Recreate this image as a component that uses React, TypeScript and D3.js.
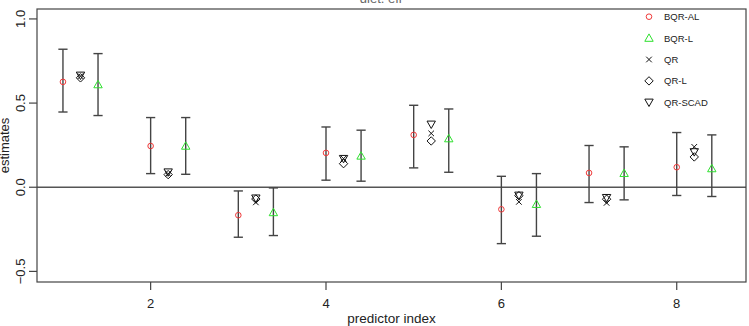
import React from "react";
import * as d3 from "d3";

// values
const predictors = [1, 2, 3, 4, 5, 6, 7, 8];
const bqrAL = [0.626, 0.245, -0.166, 0.204, 0.311, -0.131, 0.085, 0.119];
const bqrALLo = [0.447, 0.081, -0.297, 0.042, 0.115, -0.335, -0.091, -0.049];
const bqrALHi = [0.82, 0.414, -0.022, 0.358, 0.487, 0.065, 0.248, 0.325];
const bqrL = [0.61, 0.245, -0.15, 0.186, 0.289, -0.101, 0.083, 0.111];
const bqrLLo = [0.426, 0.077, -0.287, 0.036, 0.089, -0.291, -0.075, -0.055];
const bqrLHi = [0.794, 0.414, -0.004, 0.339, 0.465, 0.081, 0.24, 0.311];
const qr = [0.66, 0.08, -0.09, 0.17, 0.32, -0.087, -0.093, 0.24];
const qrL = [0.65, 0.075, -0.07, 0.14, 0.275, -0.05, -0.071, 0.18];
const qrSCAD = [0.665, 0.09, -0.065, 0.17, 0.374, -0.048, -0.062, 0.21];

const xTicks = [2, 4, 6, 8];
const yTicks = [-0.5, 0, 0.5, 1];
const legendNames = ["BQR-AL", "BQR-L", "QR", "QR-L", "QR-SCAD"];

const W = 749, H = 326;
const left = 37, right = 746, top = 9, bottom = 282;
const font = "Liberation Sans, Arial, sans-serif";
const RED = "#f03a3a";
const GREEN = "#2ee02e";
const AX = "#444";

const x = d3.scaleLinear().domain([0.704, 8.79]).range([left, right]);
const y = d3.scaleLinear().domain([-0.563, 1.059]).range([bottom, top]);

// marker drawing, R pch-like
const Marker = ({ kind, cx, cy }: { kind: string; cx: number; cy: number }) => {
  const s = 3.6;
  if (kind === "BQR-AL")
    return <circle cx={cx} cy={cy} r={2.8} fill="none" stroke={RED} strokeWidth={1} />;
  if (kind === "BQR-L") {
    const p = d3.path();
    p.moveTo(cx, cy - s - 0.6);
    p.lineTo(cx + s + 0.6, cy + s - 0.4);
    p.lineTo(cx - s - 0.6, cy + s - 0.4);
    p.closePath();
    return <path d={p.toString()} fill="none" stroke={GREEN} strokeWidth={1} />;
  }
  if (kind === "QR") {
    const k = 2.8;
    return (
      <path
        d={`M${cx - k},${cy - k}L${cx + k},${cy + k}M${cx - k},${cy + k}L${cx + k},${cy - k}`}
        stroke="#111"
        strokeWidth={1}
      />
    );
  }
  if (kind === "QR-L") {
    return (
      <path
        d={`M${cx},${cy - s - 0.6}L${cx + s + 0.6},${cy}L${cx},${cy + s + 0.6}L${cx - s - 0.6},${cy}Z`}
        fill="none"
        stroke="#111"
        strokeWidth={1}
      />
    );
  }
  const p = d3.path();
  p.moveTo(cx, cy + s + 0.6);
  p.lineTo(cx + s + 0.6, cy - s + 0.4);
  p.lineTo(cx - s - 0.6, cy - s + 0.4);
  p.closePath();
  return <path d={p.toString()} fill="none" stroke="#111" strokeWidth={1} />;
};

const ErrBar = ({ px, lo, hi }: { px: number; lo: number; hi: number }) => {
  const c = 4.6;
  return (
    <g stroke={AX} strokeWidth={1.4}>
      <line x1={px} x2={px} y1={y(lo)} y2={y(hi)} />
      <line x1={px - c} x2={px + c} y1={y(lo)} y2={y(lo)} />
      <line x1={px - c} x2={px + c} y1={y(hi)} y2={y(hi)} />
    </g>
  );
};

export default function App() {
  return (
    <svg width={W} height={H} style={{ display: "block", position: "absolute", left: 0, top: 0 }}>
      <rect width={W} height={H} fill="#fff" />
      {/* title, cut off at the top in the reference */}
      <text x={381} y={3} textAnchor="middle" fontFamily={font} fontSize={13} fill="#666">
        diet. eff
      </text>

      {/* zero line */}
      <line x1={left} x2={right} y1={y(0)} y2={y(0)} stroke="#555" strokeWidth={1.4} />

      {predictors.map((p, i) => (
        <g key={p}>
          <ErrBar px={x(p)} lo={bqrALLo[i]} hi={bqrALHi[i]} />
          <ErrBar px={x(p + 0.4)} lo={bqrLLo[i]} hi={bqrLHi[i]} />
          <Marker kind="BQR-AL" cx={x(p)} cy={y(bqrAL[i])} />
          <Marker kind="BQR-L" cx={x(p + 0.4)} cy={y(bqrL[i])} />
          <Marker kind="QR" cx={x(p + 0.2)} cy={y(qr[i])} />
          <Marker kind="QR-L" cx={x(p + 0.2)} cy={y(qrL[i])} />
          <Marker kind="QR-SCAD" cx={x(p + 0.2)} cy={y(qrSCAD[i])} />
        </g>
      ))}

      {/* box */}
      <rect x={left} y={top} width={right - left} height={bottom - top} fill="none" stroke={AX} strokeWidth={1.2} />

      {/* x axis */}
      {xTicks.map((t) => (
        <g key={t}>
          <line x1={x(t)} x2={x(t)} y1={bottom} y2={bottom + 8} stroke={AX} strokeWidth={1.2} />
          <text x={x(t)} y={308} textAnchor="middle" fontFamily={font} fontSize={13} fill="#222">
            {t}
          </text>
        </g>
      ))}
      <text x={(left + right) / 2} y={323} textAnchor="middle" fontFamily={font} fontSize={13.5} fill="#222">
        predictor index
      </text>

      {/* y axis */}
      {yTicks.map((t) => (
        <g key={t}>
          <line x1={left - 8} x2={left} y1={y(t)} y2={y(t)} stroke={AX} strokeWidth={1.2} />
          <text
            transform={`translate(25,${y(t)}) rotate(-90)`}
            textAnchor="middle"
            fontFamily={font}
            fontSize={13}
            fill="#222"
          >
            {d3.format(".1f")(t)}
          </text>
        </g>
      ))}
      <text
        transform={`translate(9,${(top + bottom) / 2}) rotate(-90)`}
        textAnchor="middle"
        fontFamily={font}
        fontSize={13}
        fill="#222"
      >
        estimates
      </text>

      {/* legend */}
      {legendNames.map((n, i) => {
        const ly = 16.7 + i * 21.4;
        return (
          <g key={n}>
            <Marker kind={n} cx={649} cy={ly} />
            <text x={664} y={ly + 3.5} fontFamily={font} fontSize={9.5} fill="#222">
              {n}
            </text>
          </g>
        );
      })}
    </svg>
  );
}
